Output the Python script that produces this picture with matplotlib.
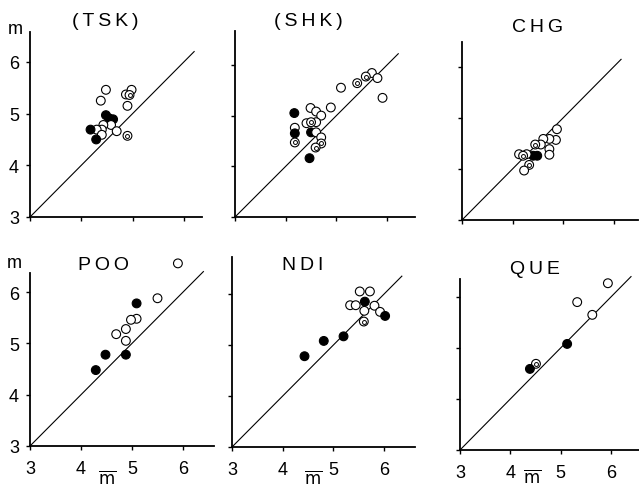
import numpy as np
import matplotlib.pyplot as plt

plt.rcParams['font.family'] = ['Liberation Sans', 'DejaVu Sans']

W, H = 639, 489

station = ["(TSK)", "(SHK)", "CHG", "POO", "NDI", "QUE"]
ticks = [3, 4, 5, 6]
tick_labels = ["3", "4", "5", "6"]

# marker kinds: o = open, f = filled, d = ringed
tsk_x = [4.48, 4.38, 4.87, 4.98, 4.94, 4.90, 4.48, 4.54, 4.62, 4.58, 4.43, 4.40, 4.30, 4.18, 4.40, 4.69, 4.29, 4.90]
tsk_y = [5.46, 5.25, 5.37, 5.46, 5.36, 5.15, 4.97, 4.91, 4.89, 4.78, 4.78, 4.69, 4.69, 4.69, 4.59, 4.66, 4.50, 4.57]
tsk_k = ["o", "o", "o", "o", "d", "o", "f", "f", "f", "o", "o", "o", "o", "f", "o", "o", "f", "d"]

shk_x = [5.70, 5.81, 5.58, 5.41, 5.09, 5.91, 4.89, 4.49, 4.60, 4.70, 4.17, 4.41, 4.60, 4.50, 4.18, 4.18, 4.50, 4.60, 4.70, 4.18, 4.70, 4.59, 4.47]
shk_y = [5.84, 5.74, 5.77, 5.64, 5.55, 5.35, 5.16, 5.15, 5.08, 5.00, 5.05, 4.85, 4.87, 4.87, 4.76, 4.65, 4.67, 4.67, 4.57, 4.47, 4.45, 4.37, 4.16]
shk_k = ["o", "o", "d", "d", "o", "o", "o", "o", "o", "o", "f", "o", "o", "d", "o", "f", "f", "o", "o", "d", "d", "d", "f"]

chg_x = [4.88, 4.86, 4.73, 4.61, 4.56, 4.45, 4.73, 4.73, 4.41, 4.49, 4.13, 4.28, 4.21, 4.33, 4.23]
chg_y = [4.78, 4.57, 4.59, 4.59, 4.48, 4.48, 4.39, 4.28, 4.26, 4.26, 4.29, 4.29, 4.26, 4.08, 3.97]
chg_k = ["o", "o", "o", "o", "o", "d", "o", "o", "f", "f", "o", "o", "d", "d", "o"]

poo_x = [5.90, 5.50, 5.09, 5.09, 4.98, 4.88, 4.69, 4.88, 4.48, 4.88, 4.29]
poo_y = [6.56, 5.88, 5.78, 5.48, 5.46, 5.28, 5.18, 5.05, 4.78, 4.78, 4.48]
poo_k = ["o", "o", "f", "o", "o", "o", "o", "o", "f", "f", "f"]

ndi_x = [5.52, 5.72, 5.62, 5.33, 5.44, 5.61, 5.81, 5.92, 6.02, 5.60, 5.20, 4.81, 4.43]
ndi_y = [6.05, 6.05, 5.85, 5.78, 5.78, 5.67, 5.77, 5.65, 5.57, 5.46, 5.17, 5.08, 4.78]
ndi_k = ["o", "o", "f", "o", "o", "o", "o", "o", "f", "d", "f", "f", "f"]

que_x = [5.94, 5.33, 5.63, 5.13, 4.51, 4.39]
que_y = [6.27, 5.90, 5.65, 5.08, 4.69, 4.59]
que_k = ["o", "o", "o", "f", "d", "f"]

xs = [tsk_x, shk_x, chg_x, poo_x, ndi_x, que_x]
ys = [tsk_y, shk_y, chg_y, poo_y, ndi_y, que_y]
ks = [tsk_k, shk_k, chg_k, poo_k, ndi_k, que_k]

# frame of each panel in pixels: left, origin row, px per unit (x, y), axis ends, 1:1 line end
frames = [
    (30, 218, 51.3, 51.7, 6.35, 6.58, 6.20),
    (235, 218, 50.7, 50.7, 6.55, 6.67, 6.22),
    (462, 221, 50.5, 51.0, 6.48, 6.50, 6.15),
    (30, 447, 51.0, 51.3, 6.60, 6.37, 6.40),
    (232, 448, 50.7, 51.0, 6.60, 6.73, 6.35),
    (460, 451, 50.3, 51.0, 6.55, 6.35, 6.40),
]
title_pos = [(105, 22), (308, 22), (538, 27), (103, 265), (303, 265), (535, 270)]
mbar_pos = [(107, 478), (313, 478), (532, 477)]
m_pos = [(15, 30), (14, 263)]

fig = plt.figure(figsize=(W / 100, H / 100), dpi=100)

for i in range(6):
    left, orig, ux, uy, xmax, ymax, lend = frames[i]
    w = (xmax - 3) * ux
    h = (ymax - 3) * uy
    ax = fig.add_axes([left / W, (H - orig) / H, w / W, h / H])
    ax.set_xlim(3, xmax)
    ax.set_ylim(3, ymax)
    for s in ["top", "right"]:
        ax.spines[s].set_visible(False)
    for s in ["left", "bottom"]:
        ax.spines[s].set_linewidth(1.3)
    ax.set_xticks(ticks)
    ax.set_yticks(ticks)
    ax.tick_params(direction="out", length=3, width=1, labelsize=13, pad=5)
    ax.tick_params(axis="x", pad=7)
    if i >= 3:
        ax.set_xticklabels(tick_labels)
    else:
        ax.set_xticklabels([])
    if i % 3 == 0:
        ax.set_yticklabels(tick_labels)
    else:
        ax.set_yticklabels([])

    ax.plot([3, lend], [3, lend], color="black", lw=0.8, clip_on=False)

    x = np.array(xs[i])
    y = np.array(ys[i])
    k = np.array(ks[i])
    face = np.where(k == "f", "black", "white")
    ax.scatter(x, y, s=40, c=face, edgecolors="black", linewidths=0.8, zorder=3, clip_on=False)
    ring = k == "d"
    ax.scatter(x[ring], y[ring], s=8, c="white", edgecolors="black", linewidths=0.7, zorder=4, clip_on=False)

    tx, ty = title_pos[i]
    fig.text(tx / W, 1 - ty / H, "\u2009".join(station[i]), ha="center", va="center", fontsize=14)

for tx, ty in mbar_pos:
    fig.text(tx / W, 1 - ty / H, r"$\overline{\mathrm{m}}$", ha="center", va="center", fontsize=12)
for tx, ty in m_pos:
    fig.text(tx / W, 1 - ty / H, "m", ha="center", va="center", fontsize=13)

fig.savefig("out.png", dpi=100)
